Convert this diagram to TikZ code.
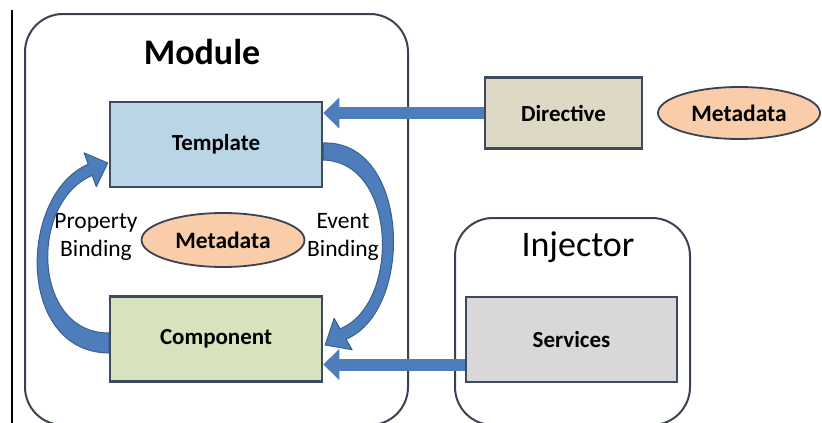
\documentclass[tikz,border=0pt]{standalone}
\usepackage{fontspec}
\setmainfont{Carlito}
\usetikzlibrary{arrows.meta,shapes.geometric,calc}
\definecolor{arrowblue}{HTML}{4D7DBB}
\definecolor{arrowedge}{HTML}{3A5F92}
\definecolor{boxedge}{HTML}{3E4A60}
\definecolor{contedge}{HTML}{3A4252}
\definecolor{tmplfill}{HTML}{BAD6E6}
\definecolor{compfill}{HTML}{D6E3BC}
\definecolor{dirfill}{HTML}{DDD9C4}
\definecolor{servfill}{HTML}{D8D8D8}
\definecolor{metafill}{HTML}{F9CDAA}
\begin{document}
\begin{tikzpicture}[x=1pt,y=-1pt,
  box/.style={draw=boxedge, line width=2.5pt, minimum width=212pt, minimum height=85pt,
    font=\fontsize{23}{27}\selectfont\bfseries, inner sep=0pt},
  meta/.style={ellipse, draw=contedge, line width=1.8pt, fill=metafill,
    font=\fontsize{23.5}{27}\selectfont\bfseries, inner sep=0pt},
  container/.style={draw=contedge, line width=2pt, rounded corners=38pt},
  lbl/.style={font=\fontsize{23.5}{28}\selectfont, align=center, inner sep=0pt},
  title/.style={font=\fontsize{36}{40}\selectfont, inner sep=0pt},
  straightarrow/.style={draw=arrowblue, line width=12pt, -{Triangle[length=16pt,width=30pt]}},
  curvearrow/.style={fill=arrowblue, draw=arrowedge, line width=1pt, line join=round}]
\useasboundingbox (0,0) rectangle (822,423);
\clip (0,0) rectangle (822,423);
% left margin line
\draw[line width=1.5pt, black] (12,10) -- (12,423);
% containers
\draw[container] (25,14) rectangle (408,425);
\draw[container] (455,218) rectangle (690,425);
\node[title, font=\fontsize{36}{40}\selectfont\bfseries] (module) at (202,52) {Module};
\node[title] (injector) at (578,247) {Injector};
% boxes
\node[box, fill=tmplfill] (tmpl) at (216,144.5) {Template};
\node[box, fill=compfill] (comp) at (216,339) {Component};
\node[box, fill=dirfill, minimum width=157pt, minimum height=71pt] (dir) at (563.5,113) {Directive};
\node[box, fill=servfill, minimum width=211pt, minimum height=85pt] (serv) at (571.5,339.5) {Services};
\node[meta, minimum width=163pt, minimum height=54pt] (meta1) at (223,240) {Metadata};
\node[meta, minimum width=162pt, minimum height=52pt] (meta2) at (739,113) {Metadata};
\node[lbl] (prop) at (96,237) {Property\\Binding};
\node[lbl] (event) at (343,237) {Event\\Binding};
% straight arrows
\coordinate (servout) at ($(serv.west)+(0,25)$);
\draw[straightarrow] (dir.west) -- (dir.west -| tmpl.east);
\draw[straightarrow] (servout) -- (servout -| comp.east);
% curved arrow: Component -> Template (Property Binding)
\coordinate (pbO) at ($(comp.west)+(0,14)$);
\coordinate (pbI) at ($(comp.west)+(0,-6)$);
\coordinate (pbTip) at ($(tmpl.west)+(-1,18.5)$);
\path[curvearrow] (pbO) .. controls (16,352) and (18,195) .. (88.2,164.2)
  -- (84.1,152.9) -- (pbTip) -- (96.3,186.7) -- (92.2,175.4)
  .. controls (29,202) and (32,333) .. (pbI) -- cycle;
% curved arrow: Template -> Component (Event Binding)
\coordinate (ebO) at ($(tmpl.east)+(0,-1.5)$);
\coordinate (ebI) at ($(tmpl.east)+(0,15.5)$);
\coordinate (ebTip) at ($(comp.east)+(2,6)$);
\path[curvearrow] (ebO) .. controls (410,140) and (415,310) .. (346.1,339.2)
  -- (352.1,349.7) -- (ebTip) -- (334.1,318.3) -- (340.1,328.8)
  .. controls (400,305) and (398,162) .. (ebI) -- cycle;
\end{tikzpicture}
\end{document}
